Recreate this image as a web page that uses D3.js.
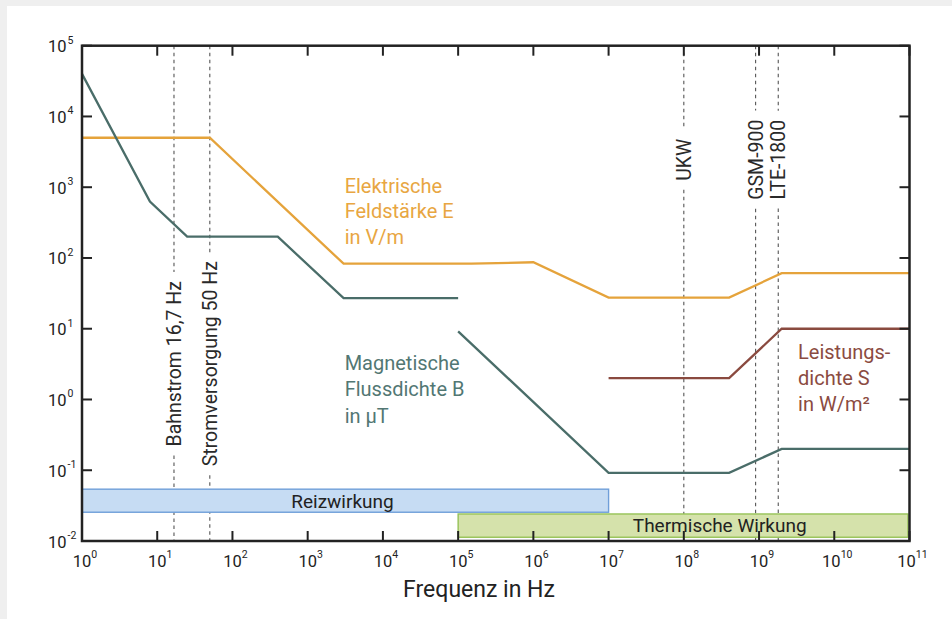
<!DOCTYPE html>
<html><head><meta charset="utf-8">
<script src="https://cdn.jsdelivr.net/npm/d3@7/dist/d3.min.js"></script>
<style>
html,body{margin:0;padding:0;background:#efefef;}
svg{display:block;font-family:Roboto,"Noto Sans",sans-serif;}
</style></head>
<body>
<svg id="chart" width="952" height="619"></svg>
<script>
// ---- data ----
const xTickExps = [0,1,2,3,4,5,6,7,8,9,10,11];
const yTickExps = [-2,-1,0,1,2,3,4,5];

const eFreq = [1, 50, 3000, 1.5e5, 1e6, 1e7, 4e8, 2e9, 1e11];
const eVal  = [5000, 5000, 83, 83, 87, 27.5, 27.5, 61, 61];

const bFreqLow = [1, 8, 25, 400, 3000, 1e5];
const bValLow  = [40000, 625, 200, 200, 27, 27];
const bFreqHigh = [1e5, 1e7, 4e8, 2e9, 1e11];
const bValHigh  = [9.2, 0.092, 0.092, 0.2, 0.2];

const sFreq = [1e7, 4e8, 2e9, 1e11];
const sVal  = [2, 2, 10, 10];

const markerLabels = ["Bahnstrom 16,7 Hz", "Stromversorgung 50 Hz", "UKW", "GSM-900", "LTE-1800"];
const markerFreqs  = [16.7, 50, 1e8, 9e8, 1.8e9];
const markerLabelAt = [3.2, 3.2, 2450, 2450, 2450];

const bandLabels = ["Reizwirkung", "Thermische Wirkung"];
const bandFrom = [1, 1e5];
const bandTo   = [1e7, 1e11];
const bandHigh = [0.054, 0.0241];
const bandLow  = [0.0255, 0.0113];
const bandLabelFreq = [2.9e3, 3e8];

const eLabel = ["Elektrische", "Feldstärke E", "in V/m"];
const bLabel = ["Magnetische", "Flussdichte B", "in µT"];
const sLabel = ["Leistungs-", "dichte S", "in W/m²"];
const eLabelPos = [3100, 830];
const bLabelPos = [3100, 2.6];
const sLabelPos = [3.3e9, 3.7];

const xTitle = "Frequenz in Hz";

// ---- styles ----
const colE = "#e5a33b", colB = "#4a6d69", colS = "#8a4a3f";
const colEText = "#e8a642", colBText = "#527773", colSText = "#8b4b41";
const ink = "#222";

const svg = d3.select("#chart");
svg.append("rect").attr("x", 7).attr("y", 6).attr("width", 945).attr("height", 613).attr("fill", "#fff");

const x = d3.scaleLog().domain([1, 1e11]).range([82, 909.5]);
const y = d3.scaleLog().domain([1e-2, 1e5]).range([541, 45.7]);

const g = svg.append("g");

// dashed markers with gaps around labels
markerFreqs.forEach((f, i) => {
  const cx = x(f), cy = y(markerLabelAt[i]);
  const t = g.append("text")
    .attr("transform", `translate(${cx},${cy}) rotate(-90)`)
    .attr("text-anchor", "middle").attr("dy", "0.36em")
    .attr("font-size", 19.5).attr("fill", "#2a2a2a")
    .text(markerLabels[i]);
  const len = t.node().getComputedTextLength();
  const gap = 9;
  const segs = [[y(1e5), cy - len / 2 - gap], [cy + len / 2 + gap, y(1e-2)]];
  segs.forEach(s => {
    g.append("line").attr("x1", cx).attr("x2", cx).attr("y1", s[0]).attr("y2", s[1])
      .attr("stroke", "#555").attr("stroke-width", 1.1).attr("stroke-dasharray", "3.5,3.5");
  });
});

// series
const line = d3.line().x(d => x(d[0])).y(d => y(d[1]));
function drawSeries(fs, vs, col) {
  g.append("path").datum(fs.map((f, i) => [f, vs[i]]))
    .attr("d", line).attr("fill", "none").attr("stroke", col)
    .attr("stroke-width", 2.3).attr("stroke-linejoin", "miter");
}
drawSeries(eFreq, eVal, colE);
drawSeries(bFreqLow, bValLow, colB);
drawSeries(bFreqHigh, bValHigh, colB);
drawSeries(sFreq, sVal, colS);

// bands
const bandFill = ["#c6dcf3", "#d5e2ab"];
const bandStroke = ["#6f9fd9", "#96c256"];
bandLabels.forEach((lab, i) => {
  const x0 = x(bandFrom[i]), x1 = x(bandTo[i]) - (i === 1 ? 1.5 : 0);
  const y0 = y(bandHigh[i]), y1 = y(bandLow[i]);
  g.append("rect").attr("x", x0).attr("y", y0).attr("width", x1 - x0).attr("height", y1 - y0)
    .attr("fill", bandFill[i]).attr("stroke", bandStroke[i]).attr("stroke-width", 1.4);
  g.append("text").attr("x", x(bandLabelFreq[i])).attr("y", (y0 + y1) / 2).attr("dy", "0.36em")
    .attr("text-anchor", "middle").attr("font-size", 19).attr("fill", ink).text(lab);
});

// series labels
function multiLabel(lines, pos, col, lh) {
  const t = g.append("text").attr("font-size", 20).attr("fill", col);
  lines.forEach((l, i) => {
    t.append("tspan").attr("x", x(pos[0])).attr("y", y(pos[1]) + i * lh).text(l);
  });
}
multiLabel(eLabel, eLabelPos, colEText, 25.5);
multiLabel(bLabel, bLabelPos, colBText, 26.3);
multiLabel(sLabel, sLabelPos, colSText, 25.8);

// frame + inward ticks
const [xl, xr] = x.range(), [yb, yt] = y.range();
const tl = 10;
xTickExps.forEach(e => {
  const px = x(Math.pow(10, e));
  g.append("line").attr("x1", px).attr("x2", px).attr("y1", yb).attr("y2", yb - tl).attr("stroke", ink).attr("stroke-width", 2);
  g.append("line").attr("x1", px).attr("x2", px).attr("y1", yt).attr("y2", yt + tl).attr("stroke", ink).attr("stroke-width", 2);
  const t = g.append("text").attr("x", px + 3).attr("y", yb + 25.7).attr("text-anchor", "middle")
    .attr("font-size", 16.5).attr("fill", ink).text("10");
  t.append("tspan").attr("dy", -8.7).attr("font-size", 10.5).text(e);
});
yTickExps.forEach(e => {
  const py = y(Math.pow(10, e));
  g.append("line").attr("x1", xl).attr("x2", xl + tl).attr("y1", py).attr("y2", py).attr("stroke", ink).attr("stroke-width", 2);
  g.append("line").attr("x1", xr).attr("x2", xr - tl).attr("y1", py).attr("y2", py).attr("stroke", ink).attr("stroke-width", 2);
  g.append("text").attr("x", 66.5).attr("y", py + 6.5).attr("text-anchor", "end")
    .attr("font-size", 16.5).attr("fill", ink).text("10");
  g.append("text").attr("x", 67.5).attr("y", py - 2).attr("text-anchor", "start")
    .attr("font-size", 10.5).attr("fill", ink).text(e);
});
g.append("rect").attr("x", xl).attr("y", yt).attr("width", xr - xl).attr("height", yb - yt)
  .attr("fill", "none").attr("stroke", ink).attr("stroke-width", 2.5);

g.append("text").attr("x", 479).attr("y", 596.7).attr("text-anchor", "middle")
  .attr("font-size", 23).attr("fill", ink).text(xTitle);
</script>
</body></html>
